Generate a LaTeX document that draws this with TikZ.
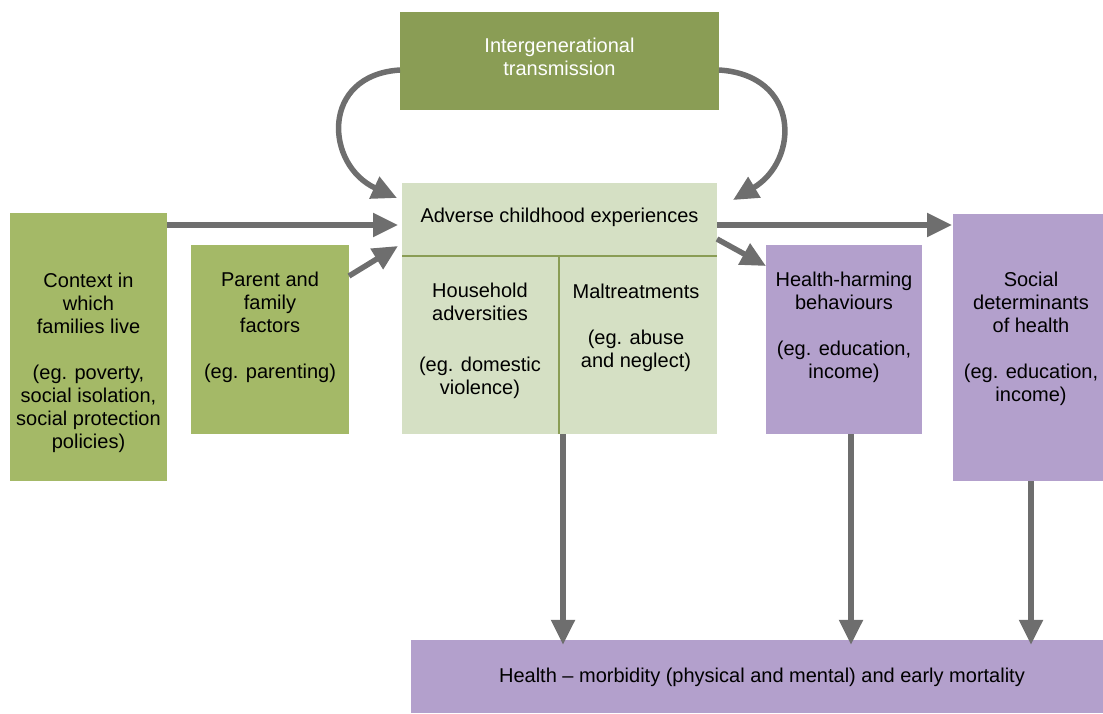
\documentclass[tikz,border=0pt]{standalone}
\usepackage{fontspec}
\setmainfont{Liberation Sans}
\usetikzlibrary{arrows.meta}
\definecolor{dkgreen}{HTML}{8A9D55}
\definecolor{midgreen}{HTML}{A4B967}
\definecolor{ltgreen}{HTML}{D5E0C4}
\definecolor{purp}{HTML}{B3A0CC}
\definecolor{arr}{HTML}{6E6E6E}
\begin{document}
\begin{tikzpicture}[x=1pt,y=-1pt,
  box/.style={rectangle,inner sep=0pt,draw=none},
  txt/.style={align=center,font=\fontsize{20}{23}\selectfont,inner sep=0pt},
  conn/.style={draw=arr,line width=5.5pt,-{Triangle[width=23pt,length=25pt]}},
  sep/.style={draw=dkgreen,line width=2.5pt}]
\useasboundingbox (0,0) rectangle (1103,713);
% boxes
\node[box,fill=dkgreen,minimum width=319pt,minimum height=98pt] (top) at (559.5,61) {};
\node[box,fill=ltgreen,minimum width=315pt,minimum height=251pt] (ace) at (559.5,308.5) {};
\node[box,fill=midgreen,minimum width=157pt,minimum height=268pt] (ctx) at (88.5,347) {};
\node[box,fill=midgreen,minimum width=158pt,minimum height=189pt] (par) at (270,339.5) {};
\node[box,fill=purp,minimum width=156pt,minimum height=189pt] (hhb) at (844,339.5) {};
\node[box,fill=purp,minimum width=150pt,minimum height=267pt] (sdh) at (1028,347.5) {};
\node[box,fill=purp,minimum width=692pt,minimum height=73pt] (hlth) at (757,676.5) {};
% separators inside ACE
\coordinate (hl) at (402,256);
\coordinate (hr) at (717,256);
\coordinate (vt) at (559,256);
\coordinate (vb) at (559,434);
\draw[sep] (hl) -- (hr);
\draw[sep] (vt) -- (vb);
% texts
\node[txt,text=white] (toptxt) at (559.5,57) {Intergenerational\\transmission};
\node[txt] (acetxt) at (559.5,217) {Adverse childhood experiences};
\node[txt] (ctxtxt) at (88.5,362.5) {Context in\\which\\families live\\[23pt](eg. poverty,\\social isolation,\\social protection\\policies)};
\node[txt] (partxt) at (270,327.5) {Parent and\\family\\factors\\[23pt](eg. parenting)};
\node[txt] (hhbtxt) at (844,327.5) {Health-harming\\behaviours\\[23pt](eg. education,\\income)};
\node[txt] (sdhtxt) at (1031,339) {Social\\determinants\\of health\\[23pt](eg. education,\\income)};
\node[txt] (houtxt) at (480,341) {Household\\adversities\\[28pt](eg. domestic\\violence)};
\node[txt] (maltxt) at (636,327.5) {Maltreatments\\[23pt](eg. abuse\\and neglect)};
\node[txt] (hlthtxt) at (762,677) {Health -- morbidity (physical and mental) and early mortality};
% connectors
\coordinate (c1s) at (167,225);
\coordinate (c1e) at (398,225);
\draw[conn] (c1s) -- (c1e);
\coordinate (c2s) at (349,276);
\coordinate (c2e) at (398,246);
\draw[conn] (c2s) -- (c2e);
\coordinate (c3s) at (717,225);
\coordinate (c3e) at (952,225);
\draw[conn] (c3s) -- (c3e);
\coordinate (c4s) at (717,239);
\coordinate (c4e) at (766,266);
\draw[conn] (c4s) -- (c4e);
\draw[conn] (ace.south -| 563,0) -- ([yshift=-5pt]hlth.north -| 563,0);
\draw[conn] (hhb.south -| 851,0) -- ([yshift=-5pt]hlth.north -| 851,0);
\draw[conn] (sdh.south -| 1031,0) -- ([yshift=-5pt]hlth.north -| 1031,0);
\coordinate (l1) at (400,70);
\coordinate (l2) at (397,198);
\draw[conn] (l1) .. controls (320,75) and (325,165) .. (l2);
\coordinate (r1) at (719,70);
\coordinate (r2) at (733,200);
\draw[conn] (r1) .. controls (800,75) and (800,160) .. (r2);
\end{tikzpicture}
\end{document}
